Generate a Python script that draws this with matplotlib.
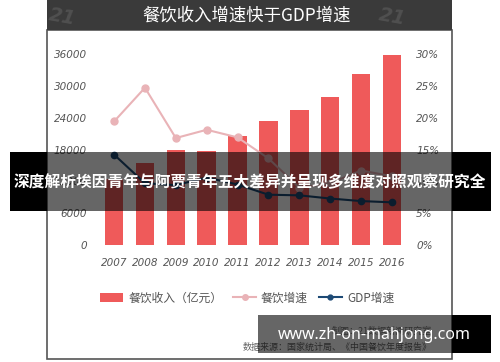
import matplotlib
matplotlib.use("Agg")
import matplotlib.pyplot as plt
from matplotlib.patches import Rectangle
from matplotlib.lines import Line2D
from matplotlib.patches import Patch

plt.rcParams['font.family'] = ['Noto Sans CJK SC', 'DejaVu Sans']

# data
years = ['2007', '2008', '2009', '2010', '2011', '2012', '2013', '2014', '2015', '2016']
revenue = [12352, 15404, 17998, 17636, 20543, 23283, 25392, 27860, 32310, 35799]   # 亿元
food_growth = [19.4, 24.7, 16.8, 18.1, 16.9, 13.6, 9.0, 9.7, 11.7, 10.8]           # %
gdp_growth = [14.2, 9.7, 9.4, 10.6, 9.5, 7.9, 7.8, 7.3, 6.9, 6.7]                  # %
left_ticks = [0, 6000, 12000, 18000, 24000, 30000, 36000]
right_ticks = [0, 5, 10, 15, 20, 25, 30]

W, H = 500, 362
fig = plt.figure(figsize=(5, 3.62), dpi=100)
fig.patch.set_facecolor('white')

def fx(px):
    return px / W

def fy(py):
    return 1 - py / H

def rect(x0, y0, x1, y1, **kw):
    r = Rectangle((fx(x0), fy(y1)), fx(x1) - fx(x0), fy(y0) - fy(y1),
                  transform=fig.transFigure, **kw)
    fig.patches.append(r)
    return r

# frame + header
rect(47, 30, 452, 359, facecolor='white', edgecolor='#555555', lw=1.2, zorder=-5)
rect(47, 0, 452, 30, facecolor='#3a3a3a', edgecolor='none', zorder=-4)
fig.text(fx(247), fy(16), '餐饮收入增速快于GDP增速', color='white', fontsize=12.5,
         ha='center', va='center')
fig.text(fx(62), fy(17), '21', color='#505050', fontsize=14, fontstyle='italic',
         fontweight='bold', ha='center', va='center', family='DejaVu Sans', rotation=-10)
fig.text(fx(392), fy(17), '21', color='#505050', fontsize=14, fontstyle='italic',
         fontweight='bold', ha='center', va='center', family='DejaVu Sans', rotation=-10)

ax = fig.add_axes([fx(94), fy(245), fx(412) - fx(94), fy(54) - fy(245)])
ax.patch.set_alpha(0)
x = range(len(years))
ax.bar(x, revenue, width=0.6, color='#EF5A5A', zorder=1)
ax.set_xlim(-0.65, 9.65)
ax.set_ylim(0, 36000)
ax.set_yticks(left_ticks)
ax.set_xticks(list(x))
ax.set_xticklabels(years)
for s in ax.spines.values():
    s.set_visible(False)
ax.tick_params(length=0, labelcolor='#555555')
ax.tick_params(axis='y', pad=5)
ax.tick_params(axis='x', pad=9)
for lab in ax.get_xticklabels() + ax.get_yticklabels():
    lab.set_family('DejaVu Sans')
    lab.set_fontstyle('italic')
    lab.set_fontsize(7.5)

ax2 = ax.twinx()
ax2.plot(x, food_growth, color='#E9B3B7', lw=1.5, marker='o', markersize=5, zorder=3)
ax2.plot(x, gdp_growth, color='#1D4A75', lw=1.5, marker='o', markersize=4.5, zorder=4)
ax2.set_ylim(0, 30)
ax2.set_yticks(right_ticks)
ax2.set_yticklabels([f'{t}%' for t in right_ticks])
for s in ax2.spines.values():
    s.set_visible(False)
ax2.tick_params(length=0, labelcolor='#555555', pad=3)
for lab in ax2.get_yticklabels():
    lab.set_family('DejaVu Sans')
    lab.set_fontstyle('italic')
    lab.set_fontsize(7.5)

handles = [Patch(facecolor='#EF5A5A'),
           Line2D([], [], color='#E9B3B7', lw=1.5, marker='o', markersize=4),
           Line2D([], [], color='#1D4A75', lw=1.5, marker='o', markersize=3.5)]
labels = ['餐饮收入（亿元）', '餐饮增速', 'GDP增速']
fig.legend(handles, labels, loc='center', bbox_to_anchor=(fx(247), fy(298)), ncol=3,
           frameon=False, fontsize=8.5, labelcolor='#555555', handlelength=2.0,
           handletextpad=0.4, columnspacing=0.9)

fig.text(fx(432), fy(331), '制图：21数据新闻研究室', color='#777777', fontsize=6.5,
         ha='right', va='center')
fig.text(fx(432), fy(347), '数据来源：国家统计局、《中国餐饮年度报告》', color='#666666',
         fontsize=6.5, ha='right', va='center')

# overlay band
rect(10, 152, 47, 211, facecolor='black', edgecolor='none', zorder=10)
rect(452, 152, 491, 211, facecolor='black', edgecolor='none', zorder=10)
rect(47, 152, 452, 211, facecolor='black', alpha=0.6, edgecolor='none', zorder=10)
fig.text(fx(250), fy(182), '深度解析埃因青年与阿贾青年五大差异并呈现多维度对照观察研究全',
         color='white', fontsize=11.3, fontweight='bold', ha='center', va='center', zorder=11)

# url box
rect(258, 315, 452, 353, facecolor='black', alpha=0.6, edgecolor='none', zorder=10)
rect(452, 315, 491, 353, facecolor='black', edgecolor='none', zorder=10)
fig.text(fx(374), fy(335), 'www.zh-on-mahjong.com', color='white', fontsize=11.5,
         fontweight='bold', ha='center', va='center', family='Noto Sans', zorder=11)

fig.savefig('out.png', dpi=100)
